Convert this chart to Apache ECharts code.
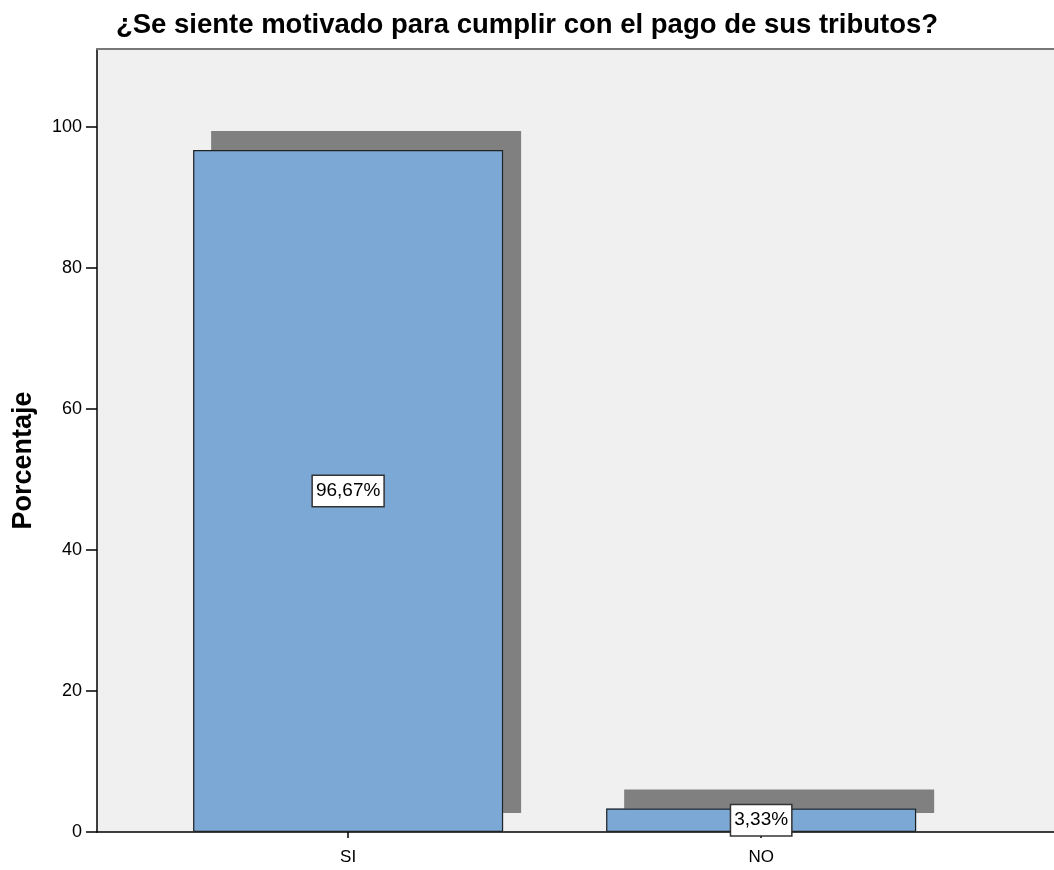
<!DOCTYPE html>
<html>
<head>
	<meta charset="UTF-8">
	<title>Porcentaje</title>
	<script src="https://cdn.jsdelivr.net/npm/echarts@6/dist/echarts.min.js"></script>
	<style>
		html, body { margin:0; padding:0; background:#fff; }
		#chart { width:1054px; height:870px; }
	</style>
</head>
<body>
<div id="chart"></div>
<script type="text/javascript">
	// datos
	var categorias = ['SI', 'NO'];
	var posiciones = [0, 1];
	var porcentajes = [96.67, 3.33];
	var ticksY = [0, 20, 40, 60, 80, 100];

	var chart = echarts.init(document.getElementById('chart'));

	var datos = [];
	for (var i = 0; i < categorias.length; i++)
	{
		datos.push([posiciones[i], porcentajes[i]]);
	}

	var fuente = '"Liberation Sans", Arial, sans-serif';

	var option =
	{
		animation: false,
		title: {
			text: '¿Se siente motivado para cumplir con el pago de sus tributos?',
			left: 'center',
			top: 6,
			textStyle: { fontFamily: fuente, fontSize: 27.5, fontWeight: 'bold', color: '#000' }
		},
		grid:
		{
			left: 97,
			right: 0,
			top: 49,
			bottom: 38,
			show: true,
			backgroundColor: '#f0f0f0',
			borderWidth: 0
		},
		xAxis: [
		{
			type: 'value',
			min: -0.608,
			max: 1.709,
			splitLine: { show: false },
			axisLine: { onZero: false, lineStyle: { color: '#000', width: 1.5 } },
			axisTick: { customValues: posiciones, length: 6, lineStyle: { color: '#000', width: 1.5 } },
			axisLabel: {
				customValues: posiciones,
				margin: 17,
				fontFamily: fuente,
				fontSize: 17,
				color: '#000',
				formatter: function(v) { return categorias[Math.round(v)]; }
			}
		},
		{
			type: 'value',
			position: 'top',
			min: -0.608,
			max: 1.709,
			splitLine: { show: false },
			axisLine: { show: true, onZero: false, lineStyle: { color: '#777', width: 2 } },
			axisTick: { show: false },
			axisLabel: { show: false }
		}],
		yAxis:
		{
			type: 'value',
			min: 0,
			max: 111,
			interval: 20,
			name: 'Porcentaje',
			nameLocation: 'middle',
			nameGap: 60,
			nameTextStyle: { fontFamily: fuente, fontSize: 27, fontWeight: 'bold', color: '#000', padding: [0, 40, 0, 0] },
			splitLine: { show: false },
			axisLine: { show: true, onZero: false, lineStyle: { color: '#000', width: 1.5 } },
			axisTick: { show: true, customValues: ticksY, length: 11, lineStyle: { color: '#000', width: 1.5 } },
			axisLabel: { customValues: ticksY, margin: 15, fontFamily: fuente, fontSize: 18, color: '#000' }
		},
		series:
		[{
			// barra con sombra, sin borde
			type: 'bar',
			data: datos,
			barWidth: 310,
			z: 2,
			itemStyle: {
				color: '#7ba8d5',
				borderWidth: 0,
				shadowColor: '#808080',
				shadowBlur: 0,
				shadowOffsetX: 18,
				shadowOffsetY: -19
			},
			emphasis: { disabled: true },
			silent: true
		},
		{
			// borde y etiqueta
			type: 'bar',
			data: datos,
			barWidth: 310,
			barGap: '-100%',
			z: 3,
			itemStyle: {
				color: 'rgba(0,0,0,0)',
				borderColor: '#222',
				borderWidth: 1.2
			},
			emphasis: { disabled: true },
			label: {
				show: true,
				position: 'inside',
				fontFamily: fuente,
				fontSize: 19,
				color: '#000',
				backgroundColor: '#fff',
				borderColor: '#333',
				borderWidth: 1.5,
				padding: [6, 3, 5, 3],
				formatter: function(p) { return p.value[1].toFixed(2).replace('.', ',') + '%'; }
			}
		}]
	};
	chart.setOption(option);
</script>
</body>
</html>
